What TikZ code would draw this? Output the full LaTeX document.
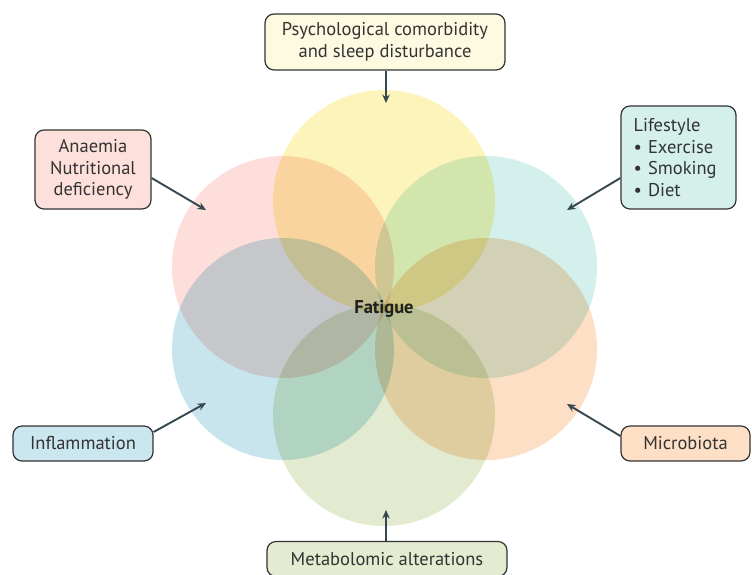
\documentclass[tikz,border=0pt]{standalone}
\usepackage{fontspec}
\setmainfont{PT Sans}
\usetikzlibrary{arrows.meta}
\definecolor{cYel}{HTML}{FCF4BA}
\definecolor{cPink}{HTML}{FDDEDA}
\definecolor{cTeal}{HTML}{D4F0EC}
\definecolor{cBlue}{HTML}{C8E5EE}
\definecolor{cOra}{HTML}{FDDFC5}
\definecolor{cGreen}{HTML}{E2EBCF}
\definecolor{bYel}{HTML}{FEF9E1}
\definecolor{bPink}{HTML}{FDE0DC}
\definecolor{bTeal}{HTML}{D5EFEB}
\definecolor{bBlue}{HTML}{CAE6EF}
\definecolor{bOra}{HTML}{FDDFC6}
\definecolor{bGreen}{HTML}{E3EBD0}
\definecolor{txt}{HTML}{333333}
\definecolor{arr}{HTML}{37474F}
\tikzset{
  factor/.style={draw=txt, line width=1.2pt, rounded corners=9pt, text=txt,
    font=\fontsize{18.5}{21.5}\selectfont, align=center, inner sep=0pt},
  conn/.style={draw=arr, line width=1.9pt, -{Stealth[length=8.5pt,width=7.5pt]}},
  petal/.style={blend mode=multiply}
}
\begin{document}
\begin{tikzpicture}[x=1pt,y=-1pt]
\useasboundingbox (0,0) rectangle (752,574);
% circles
\fill[petal,cYel]   (384,201) circle (111);
\fill[petal,cPink]  (283,267) circle (111);
\fill[petal,cTeal]  (486,267) circle (111);
\fill[petal,cBlue]  (283,349) circle (111);
\fill[petal,cOra]   (486,349) circle (111);
\fill[petal,cGreen] (384,415) circle (111);
\node[text=black!88, font=\fontsize{18.5}{21}\selectfont\bfseries] (fat) at (384,309) {Fatigue};
% boxes
\node[factor, fill=bYel, minimum width=240pt, minimum height=56pt] (psy) at (385,42)
  {Psychological comorbidity\\and sleep disturbance};
\node[factor, fill=bPink, minimum width=116pt, minimum height=79pt] (ana) at (93,169.5)
  {Anaemia\\Nutritional\\deficiency};
\node[factor, fill=bTeal, minimum width=115pt, minimum height=103pt, align=left, text width=90pt] (life) at (678.5,157.5)
  {Lifestyle\\\textbullet\ Exercise\\\textbullet\ Smoking\\\textbullet\ Diet};
\node[factor, fill=bBlue, minimum width=140pt, minimum height=35pt] (inf) at (83,443.5)
  {Inflammation};
\node[factor, fill=bOra, minimum width=129pt, minimum height=35pt] (mic) at (685.5,443.5)
  {Microbiota};
\node[factor, fill=bGreen, minimum width=240pt, minimum height=35pt] (met) at (387,559)
  {Metabolomic alterations};
% arrow targets
\coordinate (tPsy) at (386,103);
\coordinate (tAna) at (206,210);
\coordinate (tLife) at (567,210);
\coordinate (tInf) at (206,403);
\coordinate (tMic) at (567,404);
\coordinate (tMet) at (386,510);
\draw[conn] (psy.south) ++(1pt,0) -- (tPsy);
\draw[conn] ([yshift=-8.5pt]ana.east) -- (tAna);
\draw[conn] ([yshift=-20.5pt]life.west) -- (tLife);
\draw[conn] ([yshift=11.5pt]inf.east) -- (tInf);
\draw[conn] ([yshift=7.5pt]mic.west) -- (tMic);
\draw[conn] (met.north) ++(-1pt,0) -- (tMet);
\end{tikzpicture}
\end{document}
